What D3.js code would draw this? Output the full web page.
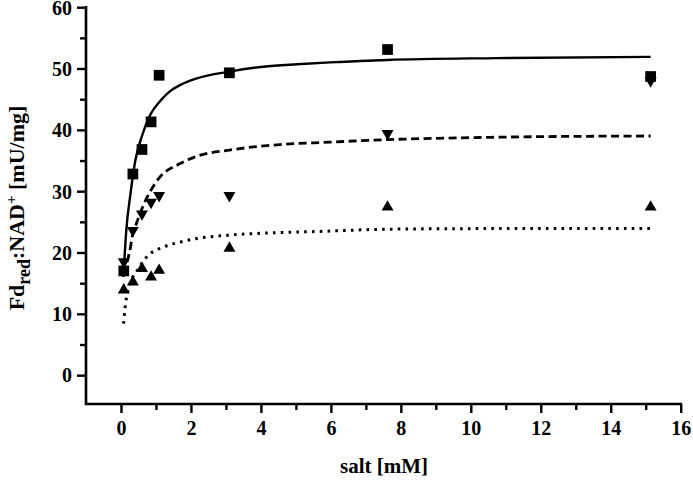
<!DOCTYPE html>
<html><head><meta charset="utf-8">
<script src="https://cdn.jsdelivr.net/npm/d3@7"></script>
<style>
html,body{margin:0;padding:0;background:#fff;}
svg{display:block;}
text{font-family:"Liberation Serif","Times New Roman",serif;font-weight:bold;fill:#000;}
</style></head>
<body>
<script>
// ---- data ----
const saltX = [0.08, 0.34, 0.6, 0.86, 1.09, 3.1, 7.62, 15.14];
const squareY = [17.0, 32.8, 36.8, 41.3, 48.9, 49.3, 53.1, 48.7];
const downTriY = [18.5, 23.6, 26.3, 28.2, 29.3, 29.3, 39.4, 48.0];
const upTriY = [13.9, 15.2, 17.4, 16.0, 17.1, 20.7, 27.4, 27.4];

const solidFitX = [0.07, 0.15, 0.27, 0.41, 0.6, 0.84, 1.12, 1.38, 1.69, 2.17, 3.1, 4.07, 5.03, 5.98, 7.6, 10.75, 15.14];
const solidFitY = [16.0, 23.5, 29.5, 35.0, 39.0, 42.5, 44.7, 46.2, 47.3, 48.4, 49.5, 50.3, 50.7, 51.0, 51.4, 51.7, 51.9];
const dashedFitX = [0.08, 0.22, 0.27, 0.31, 0.41, 0.55, 0.64, 0.84, 1.07, 1.69, 2.17, 3.1, 4.54, 5.98, 7.6, 10.75, 15.14];
const dashedFitY = [16.5, 19.5, 20.8, 22.3, 24.2, 26.4, 27.7, 30.0, 32.0, 34.5, 35.7, 36.7, 37.6, 38.0, 38.4, 38.8, 39.0];
const dottedFitX = [0.075, 0.12, 0.27, 0.5, 0.74, 1.22, 1.69, 2.17, 3.03, 5.98, 7.6, 10.75, 15.14];
const dottedFitY = [8.4, 11.1, 15.0, 17.4, 19.3, 20.9, 21.7, 22.3, 22.8, 23.5, 23.8, 23.9, 23.9];

const xMajorTicks = [0, 2, 4, 6, 8, 10, 12, 14, 16];
const xMinorTicks = [1, 3, 5, 7, 9, 11, 13, 15];
const yMajorTicks = [0, 10, 20, 30, 40, 50, 60];
const yMinorTicks = [5, 15, 25, 35, 45, 55];

// ---- layout ----
const W = 693, H = 483;
const svg = d3.select("body").append("svg").attr("width", W).attr("height", H);

const x = d3.scaleLinear().domain([-1, 16]).range([86, 680.7]);
const y = d3.scaleLinear().domain([-4.7, 60]).range([404, 7.2]);

// axes
function styleAxis(g){
  g.select(".domain").remove();
  g.selectAll("line").attr("stroke", "#000").attr("stroke-width", 2.4);
  g.selectAll("text").style("font-size", "20px").attr("fill", "#000");
}
const gx = svg.append("g").attr("transform", `translate(0,${y(-4.7)})`)
  .call(d3.axisBottom(x).tickValues(xMajorTicks).tickSize(9).tickPadding(8).tickFormat(d3.format("d")));
styleAxis(gx);
const gxm = svg.append("g").attr("transform", `translate(0,${y(-4.7)})`)
  .call(d3.axisBottom(x).tickValues(xMinorTicks).tickSize(6).tickFormat(""));
styleAxis(gxm);

const gy = svg.append("g").attr("transform", `translate(${x(-1)},0)`)
  .call(d3.axisLeft(y).tickValues(yMajorTicks).tickSize(9).tickPadding(5).tickFormat(d3.format("d")));
styleAxis(gy);
gy.selectAll("text").attr("dy", "0.34em");
const gym = svg.append("g").attr("transform", `translate(${x(-1)},0)`)
  .call(d3.axisLeft(y).tickValues(yMinorTicks).tickSize(6).tickFormat(""));
styleAxis(gym);

// axis lines (L shape)
svg.append("path")
  .attr("d", `M${x(-1)},${y(60)}V${y(-4.7)}H${x(16)}`)
  .attr("fill", "none").attr("stroke", "#000").attr("stroke-width", 2.6)
  .attr("stroke-linecap", "square");

// fitted curves
const line = d3.line().x(d => x(d[0])).y(d => y(d[1])).curve(d3.curveMonotoneX);
const zip = (a, b) => a.map((v, i) => [v, b[i]]);
svg.append("path").attr("d", line(zip(solidFitX, solidFitY)))
  .attr("fill", "none").attr("stroke", "#000").attr("stroke-width", 2.4);
svg.append("path").attr("d", line(zip(dashedFitX, dashedFitY)))
  .attr("fill", "none").attr("stroke", "#000").attr("stroke-width", 2.8)
  .attr("stroke-dasharray", "8,4.5");
svg.append("path").attr("d", line(zip(dottedFitX, dottedFitY)))
  .attr("fill", "none").attr("stroke", "#000").attr("stroke-width", 3)
  .attr("stroke-dasharray", "2.6,5.2");

// markers
const sq = d3.symbol().type(d3.symbolSquare).size(115);
const tri = d3.symbol().type(d3.symbolTriangle).size(62);
svg.append("g").selectAll("path").data(zip(saltX, downTriY)).join("path")
  .attr("d", tri).attr("fill", "#000")
  .attr("transform", d => `translate(${x(d[0])},${y(d[1])}) rotate(180)`);
svg.append("g").selectAll("path").data(zip(saltX, upTriY)).join("path")
  .attr("d", tri).attr("fill", "#000")
  .attr("transform", d => `translate(${x(d[0])},${y(d[1])})`);
svg.append("g").selectAll("path").data(zip(saltX, squareY)).join("path")
  .attr("d", sq).attr("fill", "#000")
  .attr("transform", d => `translate(${x(d[0])},${y(d[1])})`);

// axis titles
svg.append("text").attr("x", 384).attr("y", 473)
  .attr("text-anchor", "middle").style("font-size", "21px").text("salt [mM]");

const yt = svg.append("text")
  .attr("transform", `translate(24,208) rotate(-90)`)
  .attr("text-anchor", "middle").style("font-size", "22px");
yt.append("tspan").text("Fd");
yt.append("tspan").attr("dy", 6).style("font-size", "18px").text("red");
yt.append("tspan").attr("dy", -6).text(":NAD");
yt.append("tspan").attr("dy", -8).style("font-size", "15px").text("+");
yt.append("tspan").attr("dy", 8).text(" [mU/mg]");
</script>
</body></html>
